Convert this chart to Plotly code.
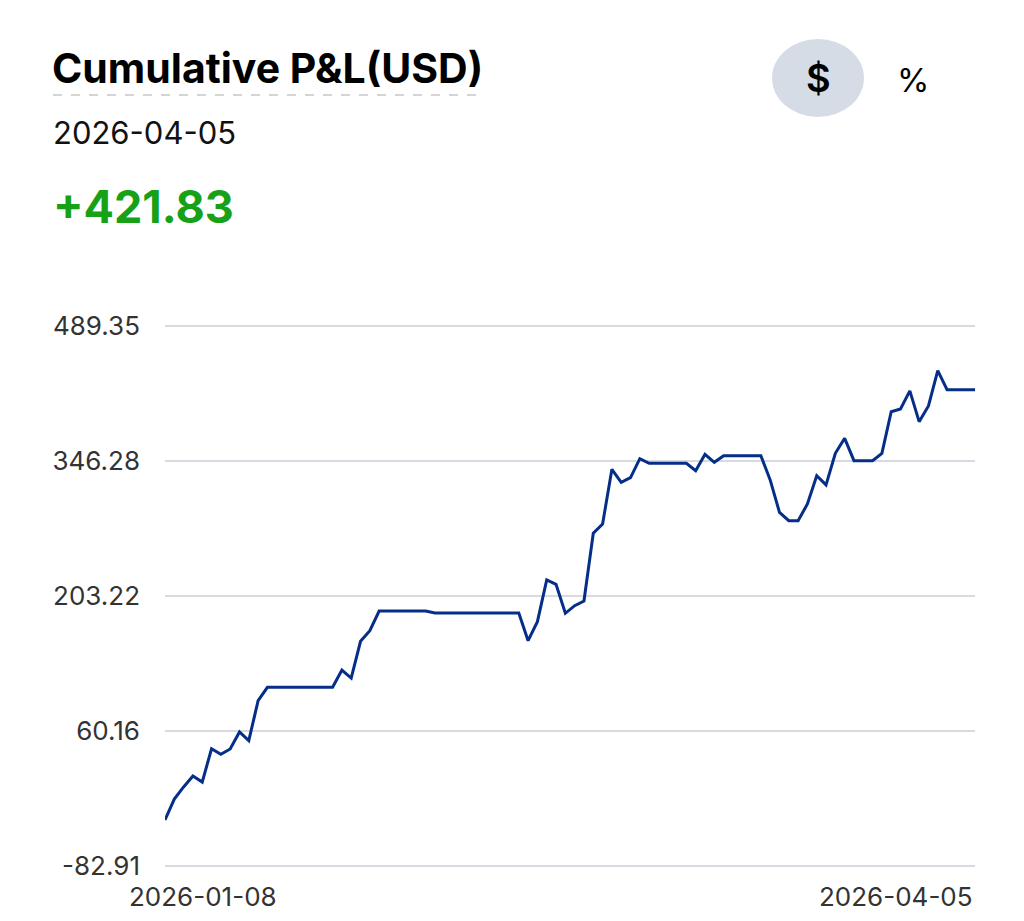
import plotly.graph_objects as go
import pandas as pd

# ---- data ----
dates = pd.date_range("2026-01-08", "2026-04-05", freq="D").strftime("%Y-%m-%d").tolist()
pnl = [
    -34.1, -11.9, 0.9, 12.5, 6.1, 41.4, 35.5, 41.1, 59.1, 49.9,
    92.3, 106.5, 106.5, 106.5, 106.5, 106.5, 106.5, 106.5, 106.5, 124.8,
    116.3, 155.2, 166.5, 187.3, 187.3, 187.3, 187.3, 187.3, 187.3, 185.2,
    185.2, 185.2, 185.2, 185.2, 185.2, 185.2, 185.2, 185.2, 185.2, 155.9,
    176.0, 220.2, 215.6, 184.9, 193.0, 197.9, 269.7, 279.5, 337.5, 323.7,
    328.6, 348.7, 343.8, 343.8, 343.8, 343.8, 343.8, 336.0, 353.4, 344.9,
    351.9, 351.9, 351.9, 351.9, 351.9, 326.2, 291.9, 283.0, 283.0, 300.7,
    330.7, 320.9, 354.4, 370.3, 346.6, 346.6, 346.6, 354.4, 398.5, 401.4,
    420.5, 387.9, 404.6, 442.0, 421.83, 421.83, 421.83, 421.83,
]
y_ticks = [-82.91, 60.16, 203.22, 346.28, 489.35]
y_tick_labels = ["-82.91", "60.16", "203.22", "346.28", "489.35"]
title_text = "Cumulative P&L(USD)"
current_date = "2026-04-05"
current_value = "+421.83"

# ---- layout geometry (pixels) ----
W, H = 1024, 921
L, R, T, B = 165, 975, 325, 867
PAD = 1.0  # small value padding around the tick range
GRID = "#d7dae0"


def px(x):
    return (x - L) / (R - L)


def py(y):
    return (B - y) / (B - T)


FONT = "Inter, Roboto, 'Noto Sans', sans-serif"

fig = go.Figure()
fig.add_trace(go.Scatter(
    x=dates, y=pnl, mode="lines",
    line=dict(color="#052e88", width=3),
    hoverinfo="x+y", showlegend=False,
))

fig.update_layout(
    width=W, height=H,
    margin=dict(l=L, r=W - R, t=T, b=H - B, pad=0),
    paper_bgcolor="white", plot_bgcolor="white",
    font=dict(family=FONT, color="#222"),
    xaxis=dict(
        range=[dates[0], dates[-1]], showgrid=False, zeroline=False,
        showticklabels=False, showline=False, fixedrange=True,
    ),
    yaxis=dict(
        range=[y_ticks[0] - PAD, y_ticks[-1] + PAD], tickmode="array",
        tickvals=y_ticks, ticktext=y_tick_labels,
        showgrid=True, gridcolor=GRID, gridwidth=2,
        zeroline=False, showline=False, ticks="",
        ticklabelstandoff=24,
        tickfont=dict(size=26, color="#333", family=FONT),
        fixedrange=True,
    ),
)

annotations = [
    dict(text=f"<b>{title_text}</b>", x=px(50), y=py(68), xref="paper", yref="paper",
         xanchor="left", yanchor="middle", showarrow=False,
         font=dict(size=41, color="#000", family=FONT)),
    dict(text=current_date, x=px(51), y=py(133), xref="paper", yref="paper",
         xanchor="left", yanchor="middle", showarrow=False,
         font=dict(size=31, color="#111", family=FONT)),
    dict(text=f"<b>{current_value}</b>", x=px(51), y=py(206), xref="paper", yref="paper",
         xanchor="left", yanchor="middle", showarrow=False,
         font=dict(size=45, color="#17a117", family=FONT)),
    dict(text="$", x=px(818), y=py(78), xref="paper", yref="paper",
         xanchor="center", yanchor="middle", showarrow=False,
         font=dict(size=38, color="#000", family=FONT, weight=600)),
    dict(text="%", x=px(913), y=py(80), xref="paper", yref="paper",
         xanchor="center", yanchor="middle", showarrow=False,
         font=dict(size=33, color="#000", family=FONT)),
    dict(text=dates[0], x=dates[0], y=0, xref="x", yref="paper",
         xanchor="left", yanchor="top", xshift=-38, yshift=-12, showarrow=False,
         font=dict(size=26, color="#333", family=FONT)),
    dict(text=dates[-1], x=dates[-1], y=0, xref="x", yref="paper",
         xanchor="right", yanchor="top", yshift=-12, showarrow=False,
         font=dict(size=26, color="#333", family=FONT)),
]
fig.update_layout(annotations=annotations)

shapes = [
    dict(type="line", xref="paper", yref="paper", x0=px(53), x1=px(481), y0=py(95), y1=py(95),
         line=dict(color="#c8c8c8", width=1.5, dash="dash")),
    dict(type="circle", xref="paper", yref="paper", x0=px(772), x1=px(864), y0=py(39), y1=py(117),
         fillcolor="#d6dce6", line=dict(width=0), layer="below"),
]
# edge gridlines (plotly skips gridlines sitting on the plot border)
for v in (y_ticks[0], y_ticks[-1]):
    shapes.append(dict(type="line", xref="paper", yref="y", x0=0, x1=1, y0=v, y1=v,
                       line=dict(color=GRID, width=2), layer="below"))
fig.update_layout(shapes=shapes)

fig.write_html("out.html", config={"displayModeBar": False})
